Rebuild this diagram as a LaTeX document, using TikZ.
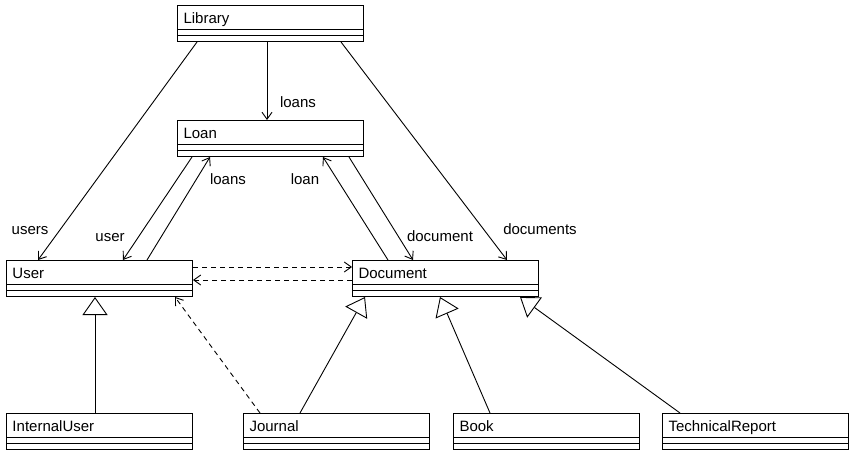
\documentclass[tikz,border=0pt]{standalone}
\usepackage{fontspec}
\setmainfont{Liberation Sans}
\usetikzlibrary{arrows.meta,calc}
\begin{document}
\begin{tikzpicture}[x=1pt,y=-1pt,
  font=\fontsize{15}{18}\selectfont,
  cls/.style={draw, line width=1pt, anchor=north west, minimum width=186pt,
    minimum height=36pt, text width=174pt, align=left, inner xsep=6pt, inner ysep=0pt,
    text height=11pt, text depth=11pt,
    path picture={
      \draw[line width=0.9pt] ([yshift=-24pt]path picture bounding box.north west) -- ([yshift=-24pt]path picture bounding box.north east);
      \draw[line width=0.9pt] ([yshift=-30pt]path picture bounding box.north west) -- ([yshift=-30pt]path picture bounding box.north east);
    }},
  assoc/.style={line width=0.9pt, -{Straight Barb[length=7pt,width=10pt]}},
  dep/.style={assoc, dash pattern=on 5pt off 4pt},
  gen/.style={line width=0.9pt, -{Triangle[length=18pt,width=25pt,fill=white]}},
  lbl/.style={inner sep=0pt}]
\useasboundingbox (0,0) rectangle (849,452);

\node[cls] (lib)  at (177,5)   {Library};
\node[cls] (loan) at (177,120) {Loan};
\node[cls] (user) at (6,260)   {User};
\node[cls] (doc)  at (352,260) {Document};
\node[cls] (iu)   at (6,413)   {InternalUser};
\node[cls] (jour) at (243,413) {Journal};
\node[cls] (book) at (453,413) {Book};
\node[cls] (tr)   at (662,413) {TechnicalReport};

% associations
\draw[assoc] ([xshift=90pt]lib.south west) -- ([xshift=90pt]loan.north west);
\draw[assoc] ([xshift=20pt]lib.south west) -- ([xshift=32pt]user.north west);
\draw[assoc] ([xshift=164pt]lib.south west) -- ([xshift=155pt]doc.north west);
\draw[assoc] ([xshift=15pt]loan.south west) -- ([xshift=117pt]user.north west);
\draw[assoc] ([xshift=141pt]user.north west) -- ([xshift=33pt]loan.south west);
\draw[assoc] ([xshift=36pt]doc.north west) -- ([xshift=146pt]loan.south west);
\draw[assoc] ([xshift=172pt]loan.south west) -- ([xshift=61pt]doc.north west);

% dependencies
\draw[dep] ([yshift=-7pt]user.north east) -- ([yshift=-7pt]doc.north west);
\draw[dep] ([yshift=-20pt]doc.north west) -- ([yshift=-20pt]user.north east);
\draw[dep] ([xshift=17pt]jour.north west) -- ([xshift=169pt]user.south west);

% generalizations
\draw[gen] ([xshift=89pt]iu.north west) -- ([xshift=89pt]user.south west);
\draw[gen] ([xshift=57pt]jour.north west) -- ([xshift=13pt]doc.south west);
\draw[gen] ([xshift=37pt]book.north west) -- ([xshift=88pt]doc.south west);
\draw[gen] ([xshift=18pt]tr.north west) -- ([xshift=168pt]doc.south west);

% labels
\node[lbl] (l1) at (298,102) {loans};
\node[lbl] (l2) at (30,231)  {users};
\node[lbl] (l3) at (110,238) {user};
\node[lbl] (l4) at (228,179) {loans};
\node[lbl] (l5) at (305,179) {loan};
\node[lbl] (l6) at (440,236) {document};
\node[lbl] (l7) at (540,229) {documents};
\end{tikzpicture}
\end{document}
